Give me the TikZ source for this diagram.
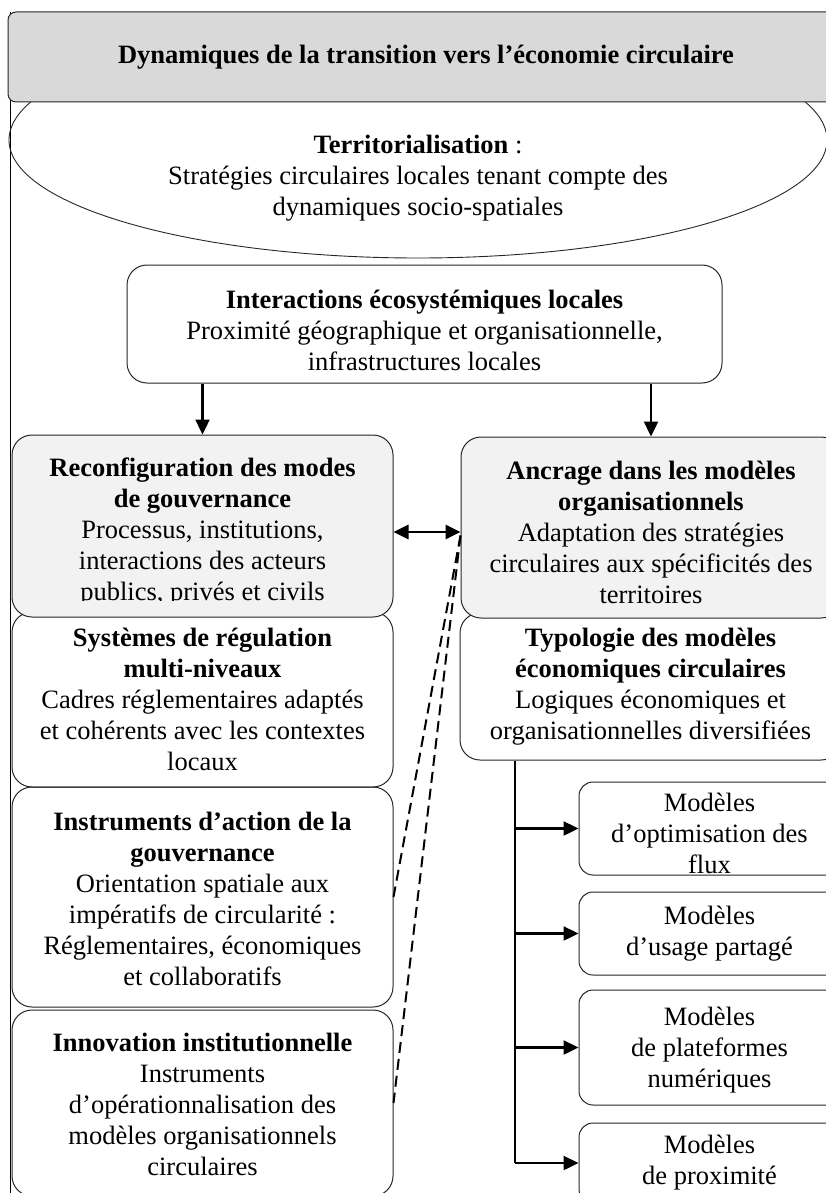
\documentclass[tikz,border=0pt]{standalone}
\usepackage{fontspec}
\setmainfont{Liberation Serif}
\usetikzlibrary{arrows.meta,shapes.geometric,positioning}

\definecolor{titlegray}{HTML}{D9D9D9}
\definecolor{lightgray}{HTML}{F2F2F2}

\begin{document}
\begin{tikzpicture}[x=1pt,y=-1pt,
  box/.style={draw=black!85, line width=1pt, rounded corners=20pt, inner sep=0pt},
  graybox/.style={box, fill=lightgray},
  smallbox/.style={box, rounded corners=14pt, minimum width=261pt},
  txt/.style={align=center, inner sep=0pt, font=\fontsize{26.5}{31}\selectfont},
  arr/.style={line width=2.4pt, -{Triangle[length=15pt,width=14pt]}},
  dblarr/.style={line width=2.8pt, {Triangle[length=15pt,width=14pt]}-{Triangle[length=15pt,width=14pt]}},
  dashline/.style={line width=2pt, dash pattern=on 11pt off 6pt}]
  \clip (0,0) rectangle (826,1193);

  % frame and top part
  \draw[line width=0.9pt] (10,12) -- (10,1193);
  \node[draw=black!85, line width=0.9pt, ellipse, minimum width=818pt, minimum height=236pt] (terr) at (418,140) {};
  \node[box, fill=titlegray, rounded corners=8pt, minimum width=836pt, minimum height=90pt] (title) at (426,57) {};
  \node[txt] (titletext) at (title) {\textbf{Dynamiques de la transition vers l’économie circulaire}};
  \node[txt] (terrtext) at (418,178) {\textbf{Territorialisation} :\\
    Stratégies circulaires locales tenant compte des\\ dynamiques socio-spatiales};

  \node[box, minimum width=595pt, minimum height=118pt] (inter) at (424.5,324) {};
  \node[txt] (intertext) at (424.5,330) {\textbf{Interactions écosystémiques locales}\\
    Proximité géographique et organisationnelle,\\ infrastructures locales};

  % left column
  \node[box, minimum width=381pt, minimum height=175pt] (sys) at (202.5,699.5) {};
  \node[txt] at (sys) {\textbf{Systèmes de régulation}\\ \textbf{multi-niveaux}\\
    Cadres réglementaires adaptés\\ et cohérents avec les contextes\\ locaux};
  \node[graybox, minimum width=381pt, minimum height=182pt] (reconf) at (202.5,526) {};
  \begin{scope}
    \clip (reconf.north west) rectangle ([yshift=17pt]reconf.south east);
    \node[txt] (reconftext) at (202.5,531.5) {\textbf{Reconfiguration des modes}\\ \textbf{de gouvernance}\\
      Processus, institutions,\\ interactions des acteurs\\ publics, privés et civils};
  \end{scope}
  \node[box, minimum width=381pt, minimum height=220pt] (instr) at (202.5,897) {};
  \node[txt] at (202.5,899) {\textbf{Instruments d’action de la}\\ \textbf{gouvernance}\\
    Orientation spatiale aux\\ impératifs de circularité :\\ Réglementaires, économiques\\ et collaboratifs};
  \node[box, minimum width=381pt, minimum height=186pt] (innov) at (202.5,1103) {};
  \node[txt] at (202.5,1104) {\textbf{Innovation institutionnelle}\\ Instruments\\
    d’opérationnalisation des\\ modèles organisationnels\\ circulaires};

  % right column
  \node[box, minimum width=381pt, minimum height=147pt] (typo) at (650.5,686.5) {};
  \node[txt] at (typo) {\textbf{Typologie des modèles}\\ \textbf{économiques circulaires}\\
    Logiques économiques et\\ organisationnelles diversifiées};
  \node[graybox, minimum width=380pt, minimum height=181pt] (ancr) at (651,527.5) {};
  \node[txt] at (651,532) {\textbf{Ancrage dans les modèles}\\ \textbf{organisationnels}\\
    Adaptation des stratégies\\ circulaires aux spécificités des\\ territoires};

  \node[smallbox, minimum height=93pt] (m1) at (709.5,828.5) {};
  \node[txt] at (709.5,833) {Modèles\\ d’optimisation des\\ flux};
  \node[smallbox, minimum height=83pt] (m2) at (709.5,933.5) {};
  \node[txt] at (m2) {Modèles\\ d’usage partagé};
  \node[smallbox, minimum height=115pt] (m3) at (709.5,1047.5) {};
  \node[txt] at (709.5,1050) {Modèles\\ de plateformes\\ numériques};
  \node[smallbox, minimum height=80pt] (m4) at (709.5,1163) {};
  \node[txt] at (m4) {Modèles\\ de proximité};

  % connectors
  \draw[arr] (inter.south -| reconf.north) -- (reconf.north);
  \draw[arr] (inter.south -| ancr.north) -- (ancr.north);
  \draw[dblarr] ([yshift=-6pt]reconf.east) -- ([yshift=-6pt]reconf.east -| ancr.west);
  \draw[dashline] ([yshift=-8pt]ancr.west) -- (instr.east);
  \draw[dashline] ([yshift=-8pt]ancr.west) -- (innov.east);

  \coordinate (trunk) at ([xshift=-135.5pt]typo.south);
  \draw[line width=2.4pt] (trunk) -- (trunk |- m4.west);
  \foreach \m in {m1,m2,m3,m4}
    \draw[arr] (trunk |- \m.west) -- (\m.west);
\end{tikzpicture}
\end{document}
